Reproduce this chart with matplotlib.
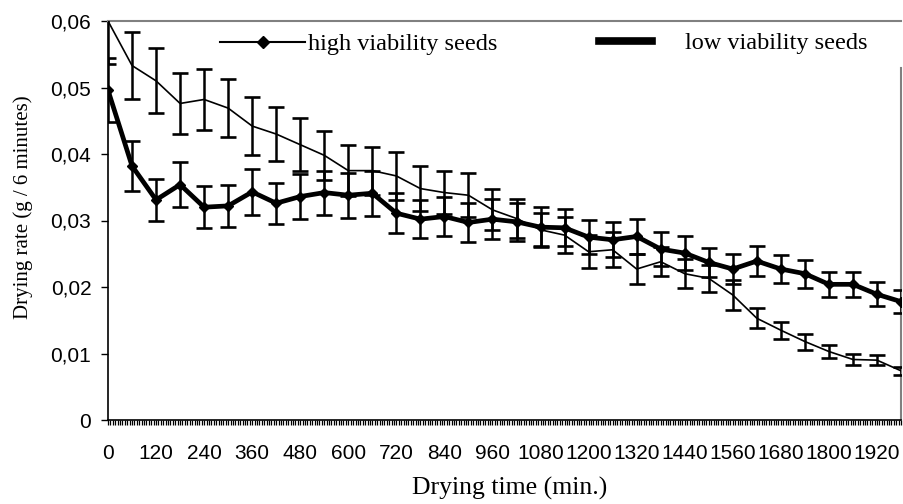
import matplotlib
matplotlib.use("Agg")
import matplotlib.pyplot as plt
from matplotlib.lines import Line2D
from matplotlib.ticker import FixedLocator, MultipleLocator, FuncFormatter

# ---- data ----
time_min = [0, 60, 120, 180, 240, 300, 360, 420, 480, 540, 600, 660, 720, 780, 840, 900,
            960, 1020, 1080, 1140, 1200, 1260, 1320, 1380, 1440, 1500, 1560, 1620, 1680,
            1740, 1800, 1860, 1920, 1980]
high_rate = [0.0600, 0.0533, 0.0510, 0.0476, 0.0482, 0.0469, 0.0442, 0.0430, 0.0414, 0.0398,
             0.0375, 0.0375, 0.0367, 0.0348, 0.0342, 0.0338, 0.0316, 0.0303, 0.0286, 0.0278,
             0.0253, 0.0256, 0.0227, 0.0238, 0.0220, 0.0213, 0.0188, 0.0153, 0.0135, 0.0118,
             0.0103, 0.0091, 0.0090, 0.0074]
high_err = [0.0064, 0.0051, 0.0049, 0.0046, 0.0046, 0.0044, 0.0043, 0.0041, 0.0040, 0.0037,
            0.0038, 0.0036, 0.0036, 0.0034, 0.0032, 0.0033, 0.0031, 0.0030, 0.0025, 0.0027,
            0.0025, 0.0026, 0.0022, 0.0022, 0.0022, 0.0020, 0.0022, 0.0015, 0.0013, 0.0012,
            0.0010, 0.0009, 0.0008, 0.0006]
low_rate = [0.0496, 0.0382, 0.0331, 0.0354, 0.0320, 0.0322, 0.0343, 0.0326, 0.0336, 0.0342,
            0.0338, 0.0341, 0.0311, 0.0302, 0.0306, 0.0297, 0.0302, 0.0298, 0.0290, 0.0289,
            0.0275, 0.0271, 0.0276, 0.0257, 0.0251, 0.0237, 0.0227, 0.0239, 0.0227, 0.0220,
            0.0204, 0.0204, 0.0189, 0.0178]
low_err = [0.0048, 0.0037, 0.0032, 0.0034, 0.0032, 0.0032, 0.0034, 0.0031, 0.0034, 0.0033,
           0.0034, 0.0034, 0.0030, 0.0029, 0.0030, 0.0029, 0.0030, 0.0029, 0.0030, 0.0028,
           0.0026, 0.0026, 0.0026, 0.0025, 0.0025, 0.0022, 0.0022, 0.0023, 0.0021, 0.0021,
           0.0019, 0.0019, 0.0018, 0.0017]
x_tick_values = [0, 120, 240, 360, 480, 600, 720, 840, 960, 1080, 1200, 1320, 1440, 1560,
                 1680, 1800, 1920]
y_tick_values = [0, 0.01, 0.02, 0.03, 0.04, 0.05, 0.06]
labels = ["high viability seeds", "low viability seeds"]
xlabel = "Drying time (min.)"
ylabel = "Drying rate (g / 6 minutes)"

SERIF = "Liberation Serif"
SANS = "Liberation Sans"

fig = plt.figure(figsize=(9.04, 5.04), dpi=100)
ax = fig.add_axes([108 / 904, 84 / 504, 793 / 904, 399 / 504])

ax.errorbar(time_min, high_rate, yerr=high_err, color="black", lw=1.2,
            elinewidth=1.8, capsize=5.8, capthick=1.9, zorder=3)
ax.errorbar(time_min, low_rate, yerr=low_err, color="black", lw=3.4,
            marker="D", markersize=5, elinewidth=1.8, capsize=5.8, capthick=1.9, zorder=4)

ax.set_xlim(0, 1980)
ax.set_ylim(0, 0.06)

ax.xaxis.set_major_locator(FixedLocator(x_tick_values))
ax.xaxis.set_minor_locator(MultipleLocator(6))
ax.yaxis.set_major_locator(FixedLocator(y_tick_values))
ax.yaxis.set_major_formatter(FuncFormatter(
    lambda v, p: "0" if abs(v) < 1e-12 else ("%.2f" % v).replace(".", ",")))

ax.tick_params(axis="x", which="both", direction="out", length=3.6, width=0.9,
               pad=14, labelsize=15)
ax.tick_params(axis="y", which="major", direction="out", length=5, width=1,
               pad=7, labelsize=15)
for lab in ax.get_xticklabels() + ax.get_yticklabels():
    lab.set_fontfamily(SANS)

for s in ["left", "bottom"]:
    ax.spines[s].set_color("black")
    ax.spines[s].set_linewidth(1.2)
for s in ["top", "right"]:
    ax.spines[s].set_color("#808080")
    ax.spines[s].set_linewidth(1.5)
ax.spines["right"].set_bounds(0, 0.0529)

ax.set_xlabel(xlabel, fontfamily=SERIF, fontsize=18.5)
ax.xaxis.set_label_coords(0.507, -0.142)
ax.set_ylabel(ylabel, fontfamily=SERIF, fontsize=15)
ax.yaxis.set_label_coords(-0.095, 0.534)

h1 = Line2D([], [], color="black", lw=1.5, marker="D", markersize=6)
h2 = Line2D([], [], color="black", lw=5.5)
leg1 = ax.legend([h1], [labels[0]], loc="center left",
                 bbox_to_anchor=(220 / 904, 1 - 44 / 504), bbox_transform=fig.transFigure,
                 frameon=False, borderpad=0, borderaxespad=0, handlelength=3.5,
                 handletextpad=0.1, prop={"family": SERIF, "size": 17.5})
ax.add_artist(leg1)
ax.legend([h2], [labels[1]], loc="center left",
          bbox_to_anchor=(599 / 904, 1 - 43 / 504), bbox_transform=fig.transFigure,
          frameon=False, borderpad=0, borderaxespad=0, handlelength=2.2,
          handletextpad=1.35, prop={"family": SERIF, "size": 17.5})

fig.savefig("out.png", dpi=100)
